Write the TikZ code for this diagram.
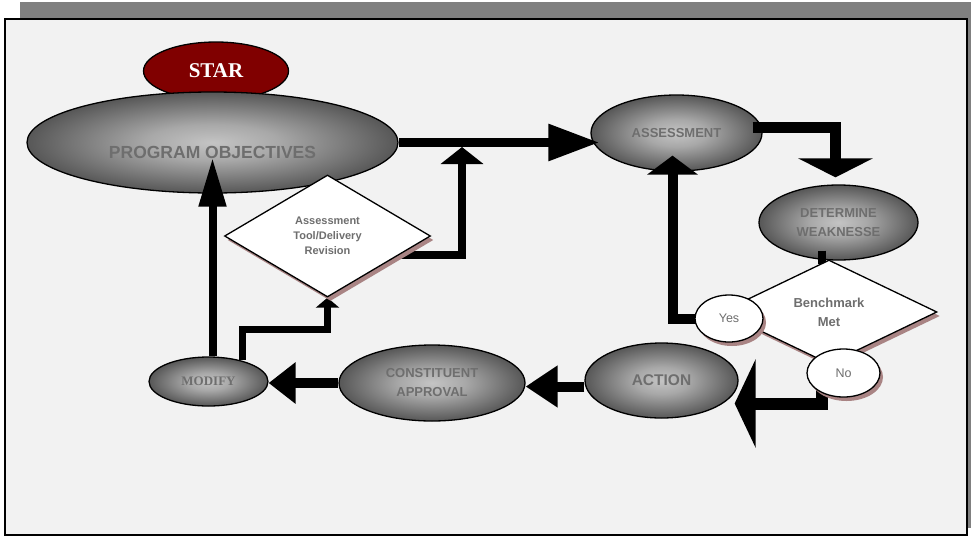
\documentclass[tikz,border=0pt]{standalone}
\usepackage{fontspec}
\setmainfont{Liberation Serif}
\setsansfont{Liberation Sans}
\usetikzlibrary{shapes.geometric,arrows.meta,shadows}
\definecolor{framegray}{HTML}{F2F2F2}
\definecolor{bargray}{HTML}{808080}
\definecolor{txtgray}{HTML}{6E6E6E}
\definecolor{ovalin}{HTML}{C4C4C4}
\definecolor{ovalmid}{HTML}{A8A8A8}
\definecolor{ovalout}{HTML}{575757}
\definecolor{starred}{HTML}{800000}
\definecolor{shadowrose}{HTML}{A98484}
\pgfdeclareradialshading{ovalshade}{\pgfpointorigin}{color(0bp)=(ovalin); color(9bp)=(ovalmid); color(25bp)=(ovalout); color(50bp)=(ovalout)}
\pgfdeclarelayer{back}
\pgfdeclarelayer{mid}
\pgfsetlayers{back,mid,main}
\begin{document}
\begin{tikzpicture}[x=1pt,y=-1pt,
		oval/.style={ellipse,draw=black,line width=1.3pt,inner sep=0pt,shading=ovalshade,text=txtgray,font=\sffamily\bfseries,align=center},
		decision/.style={diamond,draw=black,line width=1.3pt,fill=white,inner sep=0pt,text=txtgray,font=\sffamily\bfseries,align=center,drop shadow={shadow xshift=3pt,shadow yshift=-4pt,fill=shadowrose,opacity=1}},
		answer/.style={ellipse,draw=black,line width=1.3pt,fill=white,inner sep=0pt,text=txtgray,font=\sffamily,drop shadow={shadow xshift=3pt,shadow yshift=-4pt,fill=shadowrose,opacity=1}},
		flow/.style={line width=#1,line join=miter}]
	\useasboundingbox (0,0) rectangle (971,536);
	
	\begin{pgfonlayer}{back}
		\fill[bargray] (20,2) rectangle (971,528);
		\draw[fill=framegray,line width=1.3pt] (5,19) rectangle (967,535);
		
		\node[ellipse,draw=black,line width=1.3pt,fill=starred,text=white,inner sep=0pt,minimum width=145pt,minimum height=58pt,font=\rmfamily\bfseries\fontsize{21}{24}\selectfont] (star) at (216,71) {STAR};
		\node[oval,minimum width=371pt,minimum height=101pt,label={[text=txtgray,font=\sffamily\bfseries\fontsize{17.5}{20}\selectfont,yshift=-10pt]center:PROGRAM OBJECTIVES}] (po) at (212.5,142.5) {};
		\node[oval,minimum width=171pt,minimum height=76pt,font=\sffamily\bfseries\fontsize{13}{16}\selectfont] (ass) at (676.5,133) {ASSESSMENT};
		\node[oval,minimum width=159pt,minimum height=75pt,font=\sffamily\bfseries\fontsize{13}{19}\selectfont] (det) at (838.5,222.5) {DETERMINE\\WEAKNESSE};
		\node[oval,minimum width=153pt,minimum height=75pt,font=\sffamily\bfseries\fontsize{15.5}{18}\selectfont] (act) at (661.5,380.5) {ACTION};
		\node[oval,minimum width=186pt,minimum height=76pt,font=\sffamily\bfseries\fontsize{13}{19}\selectfont] (con) at (432,383) {CONSTITUENT\\APPROVAL};
		\node[oval,minimum width=119pt,minimum height=49pt,font=\rmfamily\bfseries\fontsize{13}{16}\selectfont] (mod) at (208.5,381.5) {MODIFY};
	\end{pgfonlayer}
	
	\node[decision,minimum width=206pt,minimum height=122pt,font=\sffamily\bfseries\fontsize{11}{15}\selectfont] (tool) at (327.5,236) {Assessment\\Tool/Delivery\\Revision};
	\node[decision,minimum width=216pt,minimum height=104pt,font=\sffamily\bfseries\fontsize{13}{19}\selectfont] (bench) at (829,312) {Benchmark\\Met};
	\node[answer,minimum width=68pt,minimum height=47pt,font=\sffamily\fontsize{12.5}{15}\selectfont] (yes) at (729,318.5) {Yes};
	\node[answer,minimum width=73pt,minimum height=48pt,font=\sffamily\fontsize{12.5}{15}\selectfont] (no) at (843.5,373) {No};
	
	\coordinate (join) at (462,147);
	
	\begin{pgfonlayer}{mid}
		\draw[flow=9pt,-{Triangle[length=51pt,width=35pt]}] (po.east) -- ([xshift=9pt]ass.west |- po.east);
		\draw[flow=7.5pt,-{Triangle[length=17pt,width=42pt]}] ([yshift=-19pt]tool.center) -| (join);
		\draw[flow=11pt,-{Triangle[length=19pt,width=74pt]}] ([xshift=-10pt,yshift=6pt]ass.east) -| ([xshift=-3pt,yshift=7pt]det.north);
		\draw[flow=8pt] ([xshift=-17pt,yshift=10pt]det.south) -- ([xshift=-17pt,yshift=-5pt]det.south |- bench.north);
		\draw[flow=10pt,-{Triangle[length=19pt,width=50pt]}] (yes.center) -| ([xshift=-4pt,yshift=16pt]ass.south);
		\draw[flow=12pt,-{Triangle[length=21pt,width=88pt]}] ([xshift=-22pt]no.center) |- ([xshift=-4pt,yshift=-23pt]act.east);
		\draw[flow=10pt,-{Triangle[length=32pt,width=40pt]}] ([yshift=-6pt]act.west) -- ([yshift=-6pt]act.west -| con.east);
		\draw[flow=10pt,-{Triangle[length=27pt,width=40pt]}] (con.west) -- (con.west -| mod.east);
		\draw[flow=8pt,-{Triangle[length=49pt,width=26pt]}] ([xshift=4pt]mod.north) -- ([xshift=4pt,yshift=36pt]mod.north |- po.south);
		\draw[flow=7pt,-{Triangle[length=10pt,width=23pt]}] ([xshift=34pt,yshift=-4pt]mod.north) |- ([yshift=-32pt]tool.south) -- (tool.south);
	\end{pgfonlayer}
	
\end{tikzpicture}
\end{document}
